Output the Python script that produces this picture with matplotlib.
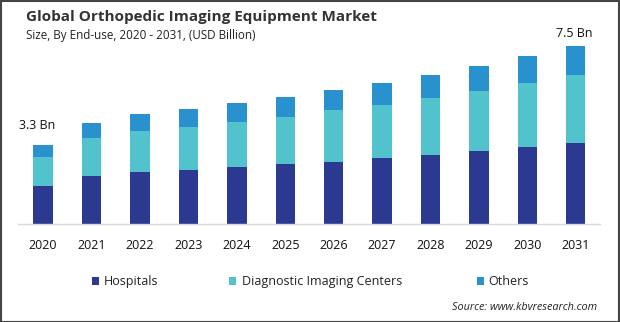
import matplotlib
matplotlib.use("Agg")
import matplotlib.pyplot as plt
from matplotlib.patches import Rectangle

plt.rcParams['font.family'] = ['Open Sans', 'DejaVu Sans']

years = ["2020", "2021", "2022", "2023", "2024", "2025", "2026", "2027", "2028", "2029", "2030", "2031"]
hospitals = [1.60, 2.02, 2.20, 2.27, 2.41, 2.52, 2.61, 2.77, 2.90, 3.07, 3.24, 3.40]
diagnostic = [1.22, 1.61, 1.71, 1.81, 1.89, 1.97, 2.16, 2.24, 2.41, 2.53, 2.70, 2.86]
others = [0.50, 0.62, 0.71, 0.76, 0.80, 0.84, 0.87, 0.91, 0.95, 1.04, 1.12, 1.22]
series_names = ["Hospitals", "Diagnostic Imaging Centers", "Others"]
colors = ["#2b3990", "#52c3cc", "#2a91cf"]
first_label = "3.3 Bn"
last_label = "7.5 Bn"

W, H = 620, 322
fig = plt.figure(figsize=(W / 100, H / 100), dpi=100)

ax_left = 18 / W
ax_right = 600 / W
ax_bottom = 1 - 224 / H
ymax = (224 - 20) / 23.8
ax_height = (224 - 20) / H
ax = fig.add_axes([ax_left, ax_bottom, ax_right - ax_left, ax_height])

x = list(range(len(years)))
w = 0.40
ax.bar(x, hospitals, width=w, color=colors[0], label=series_names[0])
ax.bar(x, diagnostic, width=w, bottom=hospitals, color=colors[1], label=series_names[1])
bottom3 = [a + b for a, b in zip(hospitals, diagnostic)]
ax.bar(x, others, width=w, bottom=bottom3, color=colors[2], label=series_names[2])
totals = [a + b for a, b in zip(bottom3, others)]

ax.set_xlim(-0.52, len(years) - 0.5)
ax.set_ylim(0, ymax)
ax.set_xticks(x)
ax.set_xticklabels(years, fontsize=9, color="#111111")
ax.tick_params(axis='x', length=0, pad=11)
ax.set_yticks([])
for s in ["top", "left", "right"]:
    ax.spines[s].set_visible(False)
ax.spines["bottom"].set_color("#d9d9d9")
ax.spines["bottom"].set_linewidth(1)

ax.annotate(first_label, xy=(x[0], totals[0]), xytext=(-4.7, 9), textcoords="offset points",
            ha="center", va="bottom", fontsize=9, color="#111111")
ax.annotate(last_label, xy=(x[-1], totals[-1]), xytext=(-1, 4), textcoords="offset points",
            ha="center", va="bottom", fontsize=9, color="#111111")

fig.text(26 / W, 1 - 17 / H, "Global Orthopedic Imaging Equipment Market", fontsize=11,
         fontweight="bold", color="#333333", va="center", ha="left")
fig.text(26 / W, 1 - 35 / H, "Size, By End-use, 2020 - 2031, (USD Billion)", fontsize=8.4,
         color="#222222", va="center", ha="left")

leg_y = 1 - 281 / H
base_y = 1 - 285 / H
items = [(92, 104, series_names[0]), (229, 242, series_names[1]), (477, 488, series_names[2])]
for (sq, tx, name), c in zip(items, colors):
    fig.patches.append(Rectangle((sq / W, leg_y - 3.5 / H), 7 / W, 7.5 / H, transform=fig.transFigure,
                                 facecolor=c, edgecolor="none"))
    fig.text(tx / W, base_y, name, fontsize=9, color="#222222", va="baseline", ha="left")

fig.text(597 / W, 1 - 307 / H, "Source: www.kbvresearch.com", fontsize=7.8, style="italic",
         color="#222222", va="center", ha="right")

fig.patches.append(Rectangle((0.5 / W, 0.5 / H), 1 - 1.5 / W, 1 - 1.5 / H, transform=fig.transFigure,
                             facecolor="none", edgecolor="#444444", linewidth=1.5))

fig.savefig("out.png", dpi=100)
